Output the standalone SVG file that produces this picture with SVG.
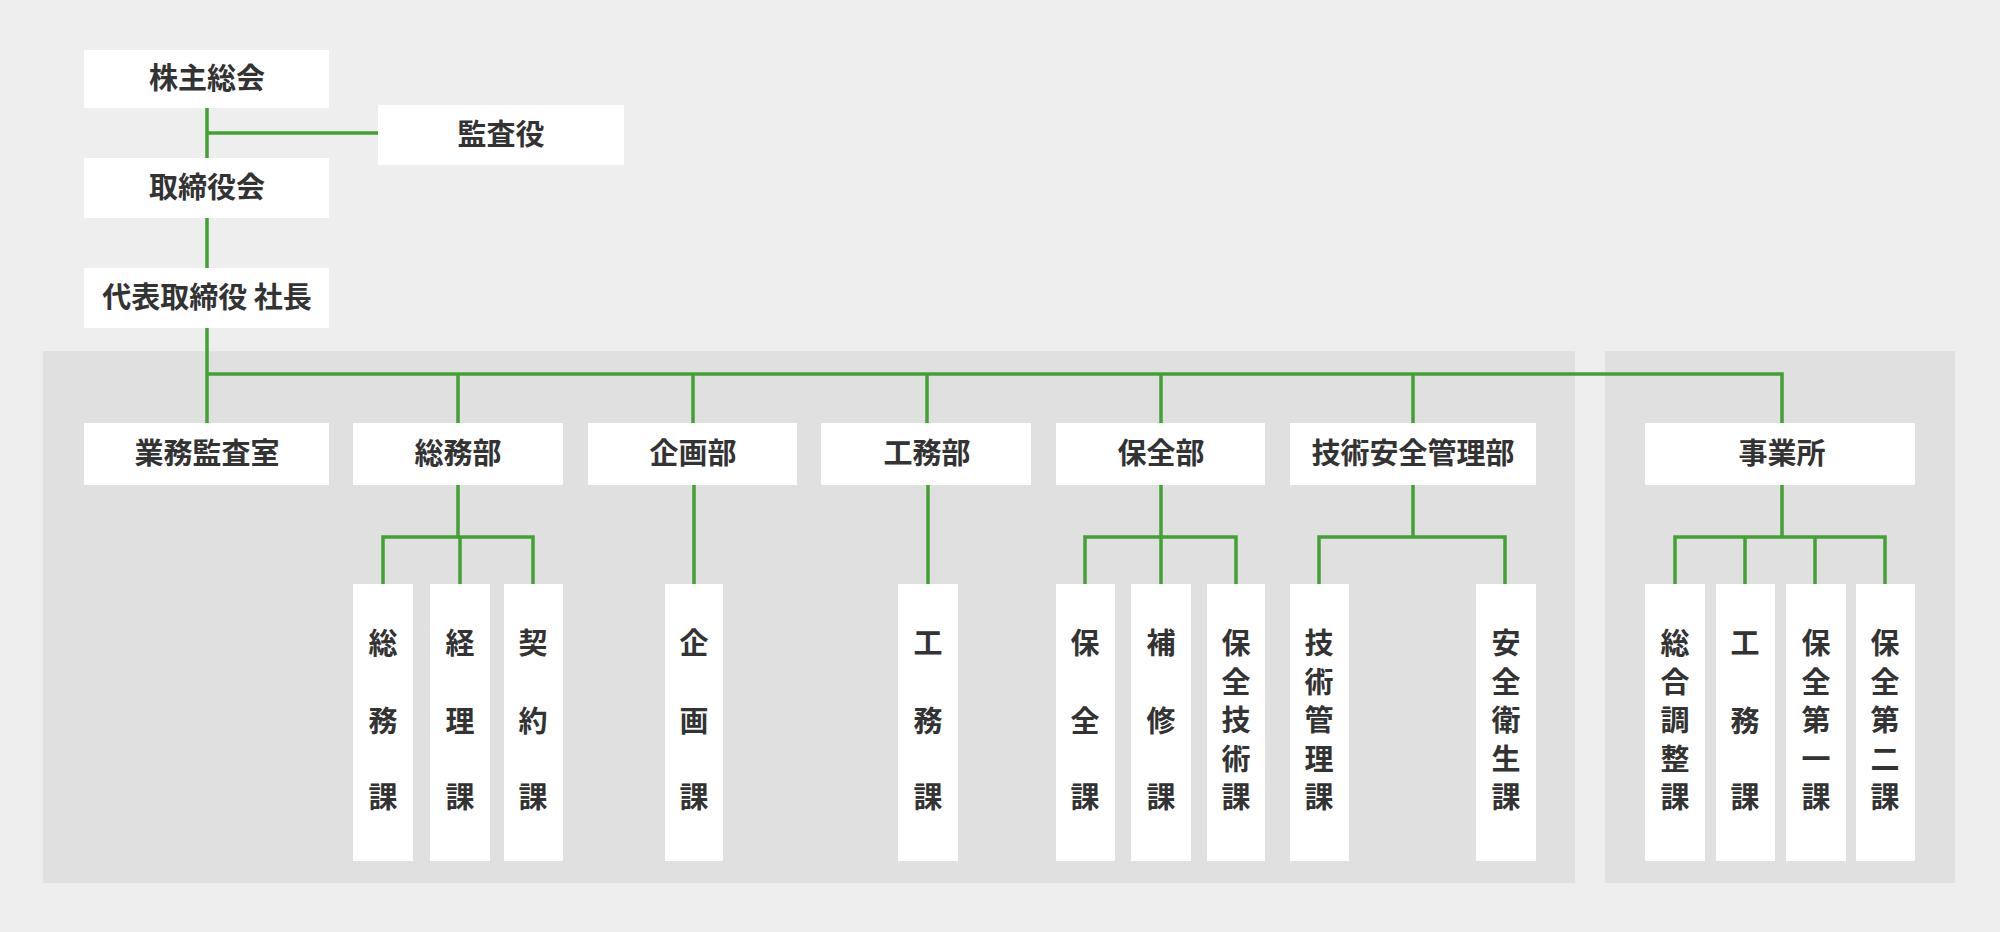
<svg xmlns="http://www.w3.org/2000/svg" width="2000" height="932" viewBox="0 0 2000 932">
<style>
.b{fill:#fff}
.p{fill:#e0e0e0}
.t{font-family:"Noto Sans CJK JP",sans-serif;font-weight:bold;font-size:29px;fill:#333;text-anchor:middle}
.c{fill:none;stroke:#43a035;stroke-width:3.5}
</style>
<rect width="2000" height="932" fill="#eeeeee"/>
<rect class="p" x="43" y="351" width="1532" height="532"/>
<rect class="p" x="1605" y="351" width="350" height="532"/>
<g id="connectors">
<path class="c" d="M207 108V158M207 133H378M207 218V268M207 328V423M207 374H1782V423M458 374V423M693 374V423M927 374V423M1161 374V423M1413 374V423"/>
<path class="c" d="M458 485V537M383 584V537H533V584M460 537V584"/>
<path class="c" d="M694 485V584M928 485V584"/>
<path class="c" d="M1161 485V537M1085 584V537H1236V584M1161 537V584"/>
<path class="c" d="M1413 485V537M1319 584V537H1505V584"/>
<path class="c" d="M1782 485V537M1675 584V537H1885V584M1745 537V584M1815 537V584"/>
</g>
<g id="n1"><rect class="b" x="84" y="50" width="245" height="58"/><text class="t" x="207" y="89">株主総会</text></g>
<g id="n2"><rect class="b" x="378" y="105" width="246" height="60"/><text class="t" x="501" y="145">監査役</text></g>
<g id="n3"><rect class="b" x="84" y="158" width="245" height="60"/><text class="t" x="207" y="198">取締役会</text></g>
<g id="n4"><rect class="b" x="84" y="268" width="245" height="60"/><text class="t" x="207" y="308">代表取締役 社長</text></g>
<g id="d1"><rect class="b" x="84" y="423" width="245" height="62"/><text class="t" x="207" y="464">業務監査室</text></g>
<g id="d2"><rect class="b" x="353" y="423" width="210" height="62"/><text class="t" x="458" y="464">総務部</text></g>
<g id="d3"><rect class="b" x="588" y="423" width="209" height="62"/><text class="t" x="693" y="464">企画部</text></g>
<g id="d4"><rect class="b" x="821" y="423" width="210" height="62"/><text class="t" x="927" y="464">工務部</text></g>
<g id="d5"><rect class="b" x="1056" y="423" width="209" height="62"/><text class="t" x="1161" y="464">保全部</text></g>
<g id="d6"><rect class="b" x="1290" y="423" width="246" height="62"/><text class="t" x="1413" y="464">技術安全管理部</text></g>
<g id="d7"><rect class="b" x="1645" y="423" width="270" height="62"/><text class="t" x="1782" y="464">事業所</text></g>
<g id="s1"><rect class="b" x="353" y="584" width="60" height="277"/><text class="t" x="383"><tspan y="654">総</tspan><tspan x="383" y="732">務</tspan><tspan x="383" y="808">課</tspan></text></g>
<g id="s2"><rect class="b" x="430" y="584" width="60" height="277"/><text class="t" x="460"><tspan y="654">経</tspan><tspan x="460" y="732">理</tspan><tspan x="460" y="808">課</tspan></text></g>
<g id="s3"><rect class="b" x="504" y="584" width="59" height="277"/><text class="t" x="533"><tspan y="654">契</tspan><tspan x="533" y="732">約</tspan><tspan x="533" y="808">課</tspan></text></g>
<g id="s4"><rect class="b" x="665" y="584" width="58" height="277"/><text class="t" x="694"><tspan y="654">企</tspan><tspan x="694" y="732">画</tspan><tspan x="694" y="808">課</tspan></text></g>
<g id="s5"><rect class="b" x="898" y="584" width="60" height="277"/><text class="t" x="928"><tspan y="654">工</tspan><tspan x="928" y="732">務</tspan><tspan x="928" y="808">課</tspan></text></g>
<g id="s6"><rect class="b" x="1056" y="584" width="59" height="277"/><text class="t" x="1085"><tspan y="654">保</tspan><tspan x="1085" y="732">全</tspan><tspan x="1085" y="808">課</tspan></text></g>
<g id="s7"><rect class="b" x="1131" y="584" width="60" height="277"/><text class="t" x="1161"><tspan y="654">補</tspan><tspan x="1161" y="732">修</tspan><tspan x="1161" y="808">課</tspan></text></g>
<g id="s8"><rect class="b" x="1207" y="584" width="58" height="277"/><text class="t" x="1236"><tspan y="654">保</tspan><tspan x="1236" y="693">全</tspan><tspan x="1236" y="731">技</tspan><tspan x="1236" y="770">術</tspan><tspan x="1236" y="808">課</tspan></text></g>
<g id="s9"><rect class="b" x="1290" y="584" width="59" height="277"/><text class="t" x="1319"><tspan y="654">技</tspan><tspan x="1319" y="693">術</tspan><tspan x="1319" y="731">管</tspan><tspan x="1319" y="770">理</tspan><tspan x="1319" y="808">課</tspan></text></g>
<g id="s10"><rect class="b" x="1476" y="584" width="60" height="277"/><text class="t" x="1506"><tspan y="654">安</tspan><tspan x="1506" y="693">全</tspan><tspan x="1506" y="731">衛</tspan><tspan x="1506" y="770">生</tspan><tspan x="1506" y="808">課</tspan></text></g>
<g id="s11"><rect class="b" x="1645" y="584" width="60" height="277"/><text class="t" x="1675"><tspan y="654">総</tspan><tspan x="1675" y="693">合</tspan><tspan x="1675" y="731">調</tspan><tspan x="1675" y="770">整</tspan><tspan x="1675" y="808">課</tspan></text></g>
<g id="s12"><rect class="b" x="1716" y="584" width="59" height="277"/><text class="t" x="1745"><tspan y="654">工</tspan><tspan x="1745" y="732">務</tspan><tspan x="1745" y="808">課</tspan></text></g>
<g id="s13"><rect class="b" x="1786" y="584" width="60" height="277"/><text class="t" x="1816"><tspan y="654">保</tspan><tspan x="1816" y="693">全</tspan><tspan x="1816" y="731">第</tspan><tspan x="1816" y="770">一</tspan><tspan x="1816" y="808">課</tspan></text></g>
<g id="s14"><rect class="b" x="1856" y="584" width="59" height="277"/><text class="t" x="1885"><tspan y="654">保</tspan><tspan x="1885" y="693">全</tspan><tspan x="1885" y="731">第</tspan><tspan x="1885" y="770">二</tspan><tspan x="1885" y="808">課</tspan></text></g>
</svg>
